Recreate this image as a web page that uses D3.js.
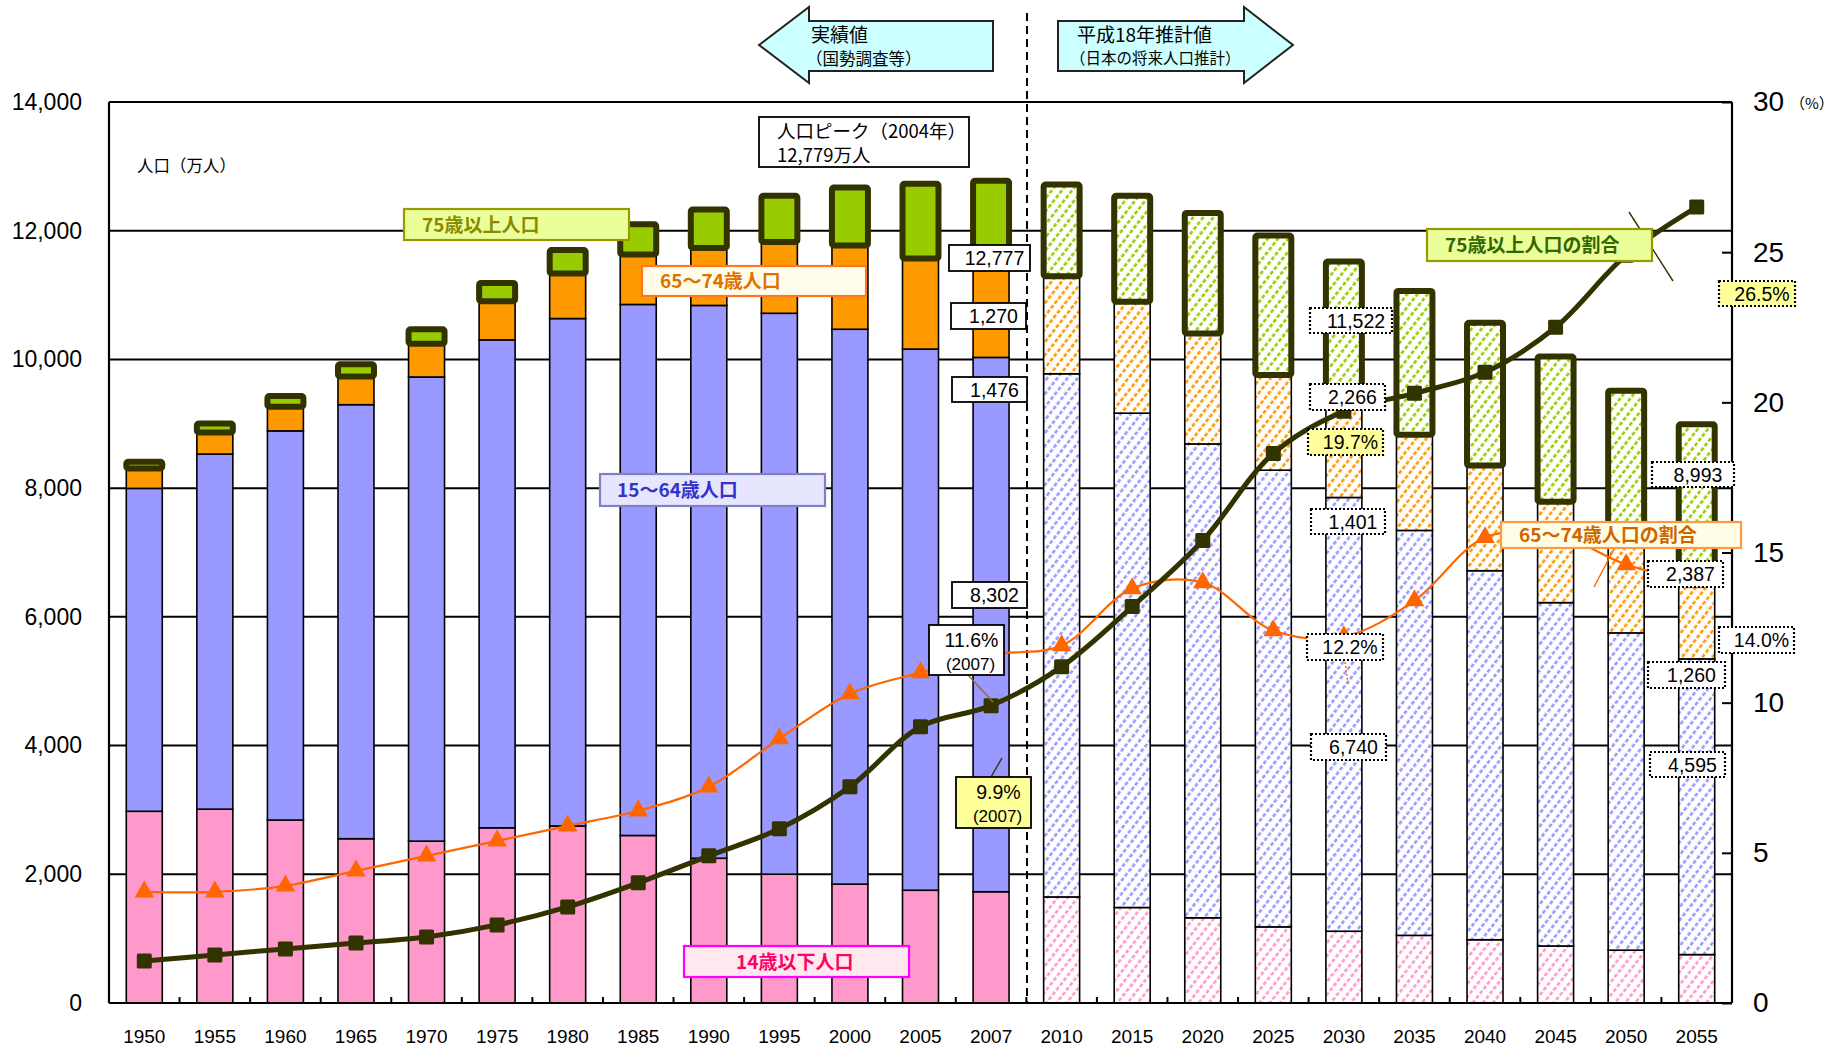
<!DOCTYPE html>
<html>
<head>
<meta charset="utf-8">
<script src="https://cdn.jsdelivr.net/npm/d3@7"></script>
<style>
body { margin: 0; background: #fff; }
svg text { font-family: "Liberation Sans", Arial, sans-serif; fill: #000; }
svg text.jp { font-family: "Noto Sans CJK JP", sans-serif; }
</style>
</head>
<body>
<div id="chart"></div>
<script>
// years (2010 onward = projection)
var years = ["1950","1955","1960","1965","1970","1975","1980","1985","1990","1995","2000","2005","2007",
             "2010","2015","2020","2025","2030","2035","2040","2045","2050","2055"]
var firstProjection = "2010"

// population (10,000 persons)
var age0to14  = [2979,3012,2843,2553,2515,2722,2751,2603,2249,2001,1847,1752,1729,1648,1484,1324,1183,1115,1051,983,886,821,752]
var age15to64 = [5017,5517,6047,6744,7212,7581,7884,8251,8590,8716,8622,8409,8302,8129,7681,7363,7096,6740,6292,5734,5335,4930,4595]
var age65to74 = [309,335,376,439,516,602,699,776,892,1109,1301,1407,1476,1517,1733,1717,1479,1401,1487,1633,1567,1391,1260]
var age75plus = [106,139,164,189,224,284,366,471,597,717,900,1160,1270,1423,1645,1873,2167,2266,2235,2220,2257,2373,2387]

// share of total population (%)
var share75plus = [1.4,1.6,1.8,2.0,2.2,2.6,3.2,4.0,4.9,5.8,7.2,9.2,9.9,11.2,13.2,15.4,18.3,19.7,20.3,21.0,22.5,24.9,26.5]
var share65to74 = [3.7,3.7,3.9,4.4,4.9,5.4,5.9,6.4,7.2,8.8,10.3,11.0,11.6,11.9,13.8,14.0,12.4,12.2,13.4,15.5,15.6,14.6,14.0]

var leftTicks = [0,2000,4000,6000,8000,10000,12000,14000]
var rightTicks = [0,5,10,15,20,25,30]

width = 1841
height = 1048
plotLeft = 109
plotRight = 1732
plotTop = 102
plotBottom = 1003

var rows = years.map(function(yr, i) {
  return {year: yr, c: age0to14[i], w: age15to64[i], e: age65to74[i], o: age75plus[i], proj: i >= years.indexOf(firstProjection)}
})

var x = d3.scaleBand().domain(years).range([plotLeft, plotRight]).paddingInner(0.49).paddingOuter(0.245)
var y = d3.scaleLinear().domain([0, 14000]).range([plotBottom, plotTop])
var y2 = d3.scaleLinear().domain([0, 30]).range([plotBottom, plotTop])
var bw = x.bandwidth()
var cx = function(yr) { return x(yr) + bw / 2 }

var svg = d3.select('#chart').append('svg').attr('width', width).attr('height', height)
var defs = svg.append('defs')

var colors = {c: '#FF99CC', w: '#9999FF', e: '#FF9900', o: '#99CC00'}

// dashed diagonal hatching for the projected years
function hatch(id, color) {
  var p = defs.append('pattern').attr('id', id)
    .attr('patternUnits', 'userSpaceOnUse').attr('width', 8).attr('height', 12)
    .attr('patternTransform', 'rotate(38)')
  p.append('rect').attr('width', 8).attr('height', 12).attr('fill', '#fff')
  p.append('line').attr('x1', 2).attr('y1', 0).attr('x2', 2).attr('y2', 12)
    .attr('stroke', color).attr('stroke-width', 2.6).attr('stroke-dasharray', '4,2')
}
for (k in colors) hatch('hatch-' + k, colors[k])

// gridlines
svg.append('g').selectAll('line').data(leftTicks.slice(1)).join('line')
  .attr('x1', plotLeft).attr('x2', plotRight)
  .attr('y1', d => y(d)).attr('y2', d => y(d))
  .attr('stroke', '#000').attr('stroke-width', 2)

// stacked bars
var keys = ['c', 'w', 'e', 'o']
var stacked = d3.stack().keys(keys)(rows)

var bars = svg.append('g')
stacked.forEach(function(layer) {
  var key = layer.key
  var g = bars.append('g')
  if (key != 'o') {
    g.selectAll('rect').data(layer).join('rect')
      .attr('x', d => x(d.data.year))
      .attr('width', bw)
      .attr('y', d => y(d[1]))
      .attr('height', d => y(d[0]) - y(d[1]))
      .attr('fill', d => d.data.proj ? 'url(#hatch-' + key + ')' : colors[key])
      .attr('stroke', '#000').attr('stroke-width', 1.6)
  } else {
    g.selectAll('rect').data(layer).join('rect')
      .attr('x', d => x(d.data.year))
      .attr('width', bw)
      .attr('y', d => y(d[1]))
      .attr('height', d => y(d[0]) - y(d[1]))
      .attr('rx', 2)
      .attr('fill', d => d.data.proj ? 'url(#hatch-o)' : colors.o)
      .attr('stroke', '#333300').attr('stroke-width', 6).attr('stroke-linejoin', 'round')
  }
})

// axes frame
var frame = svg.append('g').attr('stroke', '#000').attr('stroke-width', 2.2)
frame.append('line').attr('x1', plotLeft).attr('x2', plotRight).attr('y1', plotTop).attr('y2', plotTop)
frame.append('line').attr('x1', plotLeft).attr('x2', plotLeft).attr('y1', plotTop).attr('y2', plotBottom)
frame.append('line').attr('x1', plotRight).attr('x2', plotRight).attr('y1', plotTop).attr('y2', plotBottom)
frame.append('line').attr('x1', plotLeft).attr('x2', plotRight).attr('y1', plotBottom).attr('y2', plotBottom)

// category boundary ticks on x axis
svg.append('g').selectAll('line').data(years.slice(1)).join('line')
  .attr('x1', d => x(d) - x.step() * x.paddingInner() / 2)
  .attr('x2', d => x(d) - x.step() * x.paddingInner() / 2)
  .attr('y1', plotBottom).attr('y2', plotBottom - 6)
  .attr('stroke', '#000').attr('stroke-width', 2)

// left axis
var leftAxis = svg.append('g').attr('transform', 'translate(' + plotLeft + ',0)')
  .call(d3.axisLeft(y).tickValues(leftTicks).tickFormat(d3.format(',')).tickSize(0).tickPadding(27))
leftAxis.select('.domain').remove()
leftAxis.selectAll('text').attr('font-size', 23).style('font-family', '"Liberation Sans", Arial, sans-serif').attr('fill', '#000')

// right axis
var rightAxis = svg.append('g').attr('transform', 'translate(' + plotRight + ',0)')
  .call(d3.axisRight(y2).tickValues(rightTicks).tickSize(-10).tickPadding(21))
rightAxis.select('.domain').remove()
rightAxis.selectAll('line').attr('stroke', '#000').attr('stroke-width', 2)
rightAxis.selectAll('text').attr('font-size', 28).style('font-family', '"Liberation Sans", Arial, sans-serif').attr('fill', '#000')

// bottom axis
var bottomAxis = svg.append('g').attr('transform', 'translate(0,' + plotBottom + ')')
  .call(d3.axisBottom(x).tickSize(0))
bottomAxis.select('.domain').remove()
bottomAxis.selectAll('text').attr('y', 40).attr('dy', 0).attr('font-size', 19)
  .style('font-family', '"Liberation Sans", Arial, sans-serif').attr('fill', '#000')

// divider between actual and projected
svg.append('line').attr('x1', 1027).attr('x2', 1027).attr('y1', 13).attr('y2', plotBottom)
  .attr('stroke', '#000').attr('stroke-width', 2).attr('stroke-dasharray', '8,5')

// ratio lines
var line = d3.line().curve(d3.curveCatmullRom.alpha(0.5))

svg.append('path')
  .attr('d', line(years.map((yr, i) => [cx(yr), y2(share65to74[i])])))
  .attr('fill', 'none').attr('stroke', '#FF6600').attr('stroke-width', 2.2)
svg.append('path')
  .attr('d', line(years.map((yr, i) => [cx(yr), y2(share75plus[i])])))
  .attr('fill', 'none').attr('stroke', '#333300').attr('stroke-width', 5)

svg.append('g').selectAll('path').data(years).join('path')
  .attr('d', d3.symbol(d3.symbolTriangle, 165))
  .attr('transform', (d, i) => 'translate(' + cx(d) + ',' + y2(share65to74[i]) + ')')
  .attr('fill', '#FF6600')
svg.append('g').selectAll('rect').data(years).join('rect')
  .attr('x', d => cx(d) - 7.5).attr('width', 15)
  .attr('y', (d, i) => y2(share75plus[i]) - 7.5).attr('height', 15)
  .attr('rx', 1.5)
  .attr('fill', '#333300')

// leader lines
var leaders = [
  {x1: 1629, y1: 212, x2: 1673, y2: 281, c: '#333300', dash: null},
  {x1: 1614, y1: 549, x2: 1594, y2: 587, c: '#FF6600', dash: null},
  {x1: 968, y1: 675, x2: 993, y2: 702, c: '#996633', dash: null},
  {x1: 1002, y1: 758, x2: 991, y2: 777, c: '#333300', dash: null},
  {x1: 1345, y1: 662, x2: 1348, y2: 684, c: '#FF6600', dash: '2,2'}
]
svg.append('g').selectAll('line').data(leaders).join('line')
  .attr('x1', d => d.x1).attr('y1', d => d.y1).attr('x2', d => d.x2).attr('y2', d => d.y2)
  .attr('stroke', d => d.c).attr('stroke-width', 1.4).attr('stroke-dasharray', d => d.dash)

// arrows (actual / projection)
var arrows = svg.append('g')
arrows.append('polygon').attr('points', '759,45 809,7 809,21 993,21 993,71 809,71 809,83')
  .attr('fill', '#CCFFFF').attr('stroke', '#222').attr('stroke-width', 2)
arrows.append('polygon').attr('points', '1058,21 1244,21 1244,7 1293,45 1244,83 1244,71 1058,71')
  .attr('fill', '#CCFFFF').attr('stroke', '#222').attr('stroke-width', 2)
arrows.append('text').attr('class', 'jp').attr('x', 811).attr('y', 42).attr('font-size', 19).text('実績値')
arrows.append('text').attr('class', 'jp').attr('x', 806).attr('y', 65).attr('font-size', 16.5).text('（国勢調査等）')
arrows.append('text').attr('class', 'jp').attr('x', 1077).attr('y', 42).attr('font-size', 19).text('平成18年推計値')
arrows.append('text').attr('class', 'jp').attr('x', 1070).attr('y', 64).attr('font-size', 15.5).text('（日本の将来人口推計）')

// unit labels
svg.append('text').attr('class', 'jp').attr('x', 137).attr('y', 172).attr('font-size', 16.5).text('人口（万人）')
svg.append('text').attr('class', 'jp').attr('x', 1790).attr('y', 109).attr('font-size', 15).text('（%）')

// peak box
svg.append('rect').attr('x', 759).attr('y', 117).attr('width', 210).attr('height', 50)
  .attr('fill', '#fff').attr('stroke', '#000').attr('stroke-width', 1.8)
svg.append('text').attr('class', 'jp').attr('x', 777).attr('y', 138).attr('font-size', 18.5).text('人口ピーク（2004年）')
svg.append('text').attr('class', 'jp').attr('x', 777).attr('y', 162).attr('font-size', 18.5).text('12,779万人')

// series name labels
var seriesLabels = [
  {t: '75歳以上人口', x: 404, y: 209, w: 225, h: 31, fill: '#EAFF99', stroke: '#999900', color: '#8A8A00', tx: 18},
  {t: '65〜74歳人口', x: 642, y: 266, w: 224, h: 30, fill: '#FFFDEA', stroke: '#FF7722', color: '#E07000', tx: 18},
  {t: '15〜64歳人口', x: 600, y: 474, w: 225, h: 32, fill: '#E6E6FF', stroke: '#8080C8', color: '#3333CC', tx: 17},
  {t: '14歳以下人口', x: 684, y: 946, w: 225, h: 31, fill: '#FFE8EE', stroke: '#FF00FF', color: '#FF0066', tx: 52},
  {t: '75歳以上人口の割合', x: 1427, y: 229, w: 225, h: 32, fill: '#EAFF99', stroke: '#999900', color: '#336600', tx: 18},
  {t: '65〜74歳人口の割合', x: 1501, y: 522, w: 240, h: 26, fill: '#FFFDE6', stroke: '#FF9944', color: '#CC6600', tx: 18}
]
var sl = svg.append('g').selectAll('g').data(seriesLabels).join('g')
sl.append('rect').attr('x', d => d.x).attr('y', d => d.y).attr('width', d => d.w).attr('height', d => d.h)
  .attr('fill', d => d.fill).attr('stroke', d => d.stroke).attr('stroke-width', 2.2)
sl.append('text').attr('class', 'jp').attr('x', d => d.x + d.tx).attr('y', d => d.y + d.h / 2 + 7)
  .attr('font-size', 19).attr('font-weight', 'bold').style('fill', d => d.color).text(d => d.t)

// value boxes
var valueBoxes = [
  {t: ['12,777'], x: 949, y: 245, w: 81, h: 26, dotted: false, fill: '#fff'},
  {t: ['1,270'], x: 951, y: 303, w: 75, h: 26, dotted: false, fill: '#fff'},
  {t: ['1,476'], x: 952, y: 377, w: 75, h: 25, dotted: false, fill: '#fff'},
  {t: ['8,302'], x: 952, y: 582, w: 75, h: 26, dotted: false, fill: '#fff'},
  {t: ['11.6%', '(2007)'], x: 929, y: 625, w: 75, h: 50, dotted: false, fill: '#fff'},
  {t: ['9.9%', '(2007)'], x: 956, y: 777, w: 75, h: 51, dotted: false, fill: '#FFFF99'},
  {t: ['11,522'], x: 1310, y: 308, w: 82, h: 25, dotted: true, fill: '#fff'},
  {t: ['2,266'], x: 1310, y: 384, w: 75, h: 26, dotted: true, fill: '#fff'},
  {t: ['19.7%'], x: 1308, y: 429, w: 75, h: 26, dotted: true, fill: '#FFFF99'},
  {t: ['1,401'], x: 1311, y: 509, w: 74, h: 25, dotted: true, fill: '#fff'},
  {t: ['12.2%'], x: 1307, y: 634, w: 76, h: 26, dotted: true, fill: '#fff'},
  {t: ['6,740'], x: 1311, y: 734, w: 75, h: 26, dotted: true, fill: '#fff'},
  {t: ['8,993'], x: 1652, y: 462, w: 82, h: 25, dotted: true, fill: '#fff'},
  {t: ['2,387'], x: 1648, y: 561, w: 75, h: 26, dotted: true, fill: '#fff'},
  {t: ['14.0%'], x: 1719, y: 627, w: 75, h: 26, dotted: true, fill: '#fff'},
  {t: ['1,260'], x: 1648, y: 662, w: 77, h: 26, dotted: true, fill: '#fff'},
  {t: ['4,595'], x: 1650, y: 752, w: 75, h: 25, dotted: true, fill: '#fff'},
  {t: ['26.5%'], x: 1719, y: 281, w: 76, h: 25, dotted: true, fill: '#FFFF99'}
]
var vb = svg.append('g').selectAll('g').data(valueBoxes).join('g')
vb.append('rect').attr('x', d => d.x).attr('y', d => d.y).attr('width', d => d.w).attr('height', d => d.h)
  .attr('fill', d => d.fill).attr('stroke', '#000')
  .attr('stroke-width', d => d.dotted ? 2.2 : 1.8)
  .attr('stroke-dasharray', d => d.dotted ? '2,2' : null)
vb.each(function(d) {
  var g = d3.select(this)
  if (d.t.length == 1) {
    g.append('text').attr('x', d.x + d.w / 2 + 5).attr('y', d.y + d.h / 2 + 7)
      .attr('text-anchor', 'middle').attr('font-size', 19.5).text(d.t[0])
  } else {
    g.append('text').attr('x', d.x + d.w / 2 + 5).attr('y', d.y + 22)
      .attr('text-anchor', 'middle').attr('font-size', 19.5).text(d.t[0])
    g.append('text').attr('x', d.x + d.w / 2 + 4).attr('y', d.y + 45)
      .attr('text-anchor', 'middle').attr('font-size', 17).text(d.t[1])
  }
})
</script>
</body>
</html>
